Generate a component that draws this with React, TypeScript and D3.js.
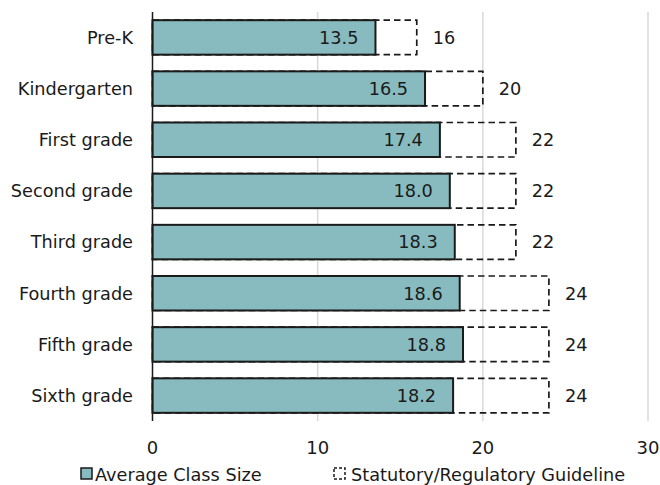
import React from "react";
import * as d3 from "d3";

const grades = [
  "Pre-K",
  "Kindergarten",
  "First grade",
  "Second grade",
  "Third grade",
  "Fourth grade",
  "Fifth grade",
  "Sixth grade",
];
const averageClassSize = [13.5, 16.5, 17.4, 18.0, 18.3, 18.6, 18.8, 18.2];
const guideline = [16, 20, 22, 22, 22, 24, 24, 24];
const xTicks = [0, 10, 20, 30];
const seriesNames = ["Average Class Size", "Statutory/Regulatory Guideline"];

const W = 660;
const H = 485;
const FONT = "'DejaVu Sans', sans-serif";
const TEAL = "#88bbbf";
const INK = "#1a1a1a";
const FS = 17.7;

export default function App() {
  const x = d3.scaleLinear().domain([0, 30]).range([152.5, 648]);
  const y = d3
    .scaleBand<string>()
    .domain(grades)
    .range([12, 421])
    .paddingInner(0.326)
    .paddingOuter(0.16);
  const bw = y.bandwidth();
  const [top, bottom] = y.range();

  return (
    <svg
      width={W}
      height={H}
      style={{ position: "absolute", left: 0, top: 0, background: "#fff" }}
      fontFamily={FONT}
    >
      {/* vertical gridlines */}
      {xTicks
        .filter((t) => t > 0)
        .map((t) => (
          <line
            key={t}
            x1={x(t)}
            x2={x(t)}
            y1={top}
            y2={bottom}
            stroke="#d9d9d9"
            strokeWidth={1.5}
          />
        ))}

      {/* guideline outlines (dashed) */}
      {grades.map((g, i) => (
        <rect
          key={"g" + g}
          x={x(0)}
          y={y(g)!}
          width={x(guideline[i]) - x(0)}
          height={bw}
          fill="none"
          stroke={INK}
          strokeWidth={1.7}
          strokeDasharray="6.5 4"
        />
      ))}

      {/* average class size bars */}
      {grades.map((g, i) => (
        <rect
          key={"a" + g}
          x={x(0)}
          y={y(g)!}
          width={x(averageClassSize[i]) - x(0)}
          height={bw}
          fill={TEAL}
          stroke={INK}
          strokeWidth={2}
        />
      ))}

      {/* value labels */}
      {grades.map((g, i) => (
        <text
          key={"va" + g}
          x={x(averageClassSize[i]) - 17}
          y={y(g)! + bw / 2}
          dy="0.36em"
          textAnchor="end"
          fontSize={FS}
          fill={INK}
        >
          {averageClassSize[i].toFixed(1)}
        </text>
      ))}
      {grades.map((g, i) => (
        <text
          key={"vg" + g}
          x={x(guideline[i]) + 16}
          y={y(g)! + bw / 2}
          dy="0.36em"
          textAnchor="start"
          fontSize={FS}
          fill={INK}
        >
          {guideline[i]}
        </text>
      ))}

      {/* category axis */}
      <line x1={x(0)} x2={x(0)} y1={top} y2={bottom} stroke={INK} strokeWidth={1.5} />
      {grades.map((g) => (
        <text
          key={"c" + g}
          x={133}
          y={y(g)! + bw / 2}
          dy="0.36em"
          textAnchor="end"
          fontSize={FS}
          fill={INK}
        >
          {g}
        </text>
      ))}

      {/* value axis ticks */}
      {xTicks.map((t) => (
        <text
          key={"t" + t}
          x={x(t)}
          y={448}
          dy="0.36em"
          textAnchor="middle"
          fontSize={18}
          fill={INK}
        >
          {t}
        </text>
      ))}

      {/* legend */}
      <rect x={81} y={468} width={11} height={11} fill={TEAL} stroke={INK} strokeWidth={1.5} />
      <text x={95} y={481} fontSize={FS} fill={INK}>
        {seriesNames[0]}
      </text>
      <rect
        x={334}
        y={468}
        width={11}
        height={11}
        fill="none"
        stroke={INK}
        strokeWidth={1.5}
        strokeDasharray="3 2"
      />
      <text x={351} y={481} fontSize={FS} fill={INK}>
        {seriesNames[1]}
      </text>
    </svg>
  );
}
